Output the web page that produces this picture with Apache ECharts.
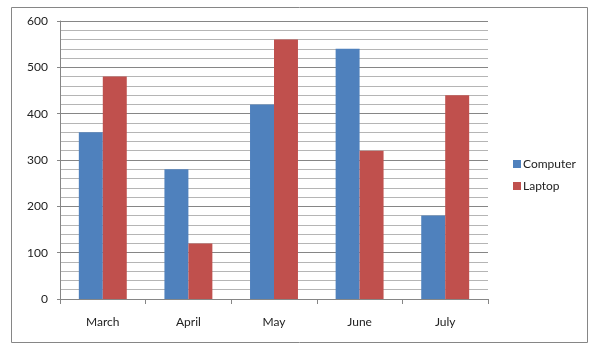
<!DOCTYPE html>
<html><head><meta charset="utf-8">
<script src="https://cdn.jsdelivr.net/npm/echarts@6/dist/echarts.min.js"></script>
<style>html,body{margin:0;padding:0;background:#fff}#c{width:596px;height:357px}</style>
</head><body><div id="c"></div>
<script>
const categories = ['March', 'April', 'May', 'June', 'July'];
const computer = [360, 280, 420, 540, 180];
const laptop = [480, 120, 560, 320, 440];
const yTicks = [0, 100, 200, 300, 400, 500, 600];

const chart = echarts.init(document.getElementById('c'), null, {renderer: 'canvas'});
const font = 'Lato, "Open Sans", sans-serif';
chart.setOption({
  animation: false,
  textStyle: {fontFamily: font},
  graphic: [{type: 'rect', shape: {x: 11.5, y: 7.5, width: 576, height: 335}, style: {fill: 'none', stroke: '#868686', lineWidth: 1}, z: 0}],
  grid: {left: 60, right: 108, top: 21, bottom: 58},
  legend: {
    orient: 'vertical', left: 508, top: 153, itemWidth: 8, itemHeight: 8, itemGap: 10,
    icon: 'rect', textStyle: {fontSize: 12, color: '#222', fontFamily: font, padding: [0, 0, 0, -3]},
    data: ['Computer', 'Laptop']
  },
  xAxis: {
    type: 'category', data: categories,
    axisLine: {lineStyle: {color: '#868686'}},
    axisTick: {show: true, length: 5, lineStyle: {color: '#868686'}},
    axisLabel: {fontSize: 12, color: '#222', margin: 17, fontFamily: font}
  },
  yAxis: {
    type: 'value', min: yTicks[0], max: yTicks[yTicks.length - 1], interval: 100,
    axisLine: {show: true, lineStyle: {color: '#868686'}},
    axisTick: {show: true, length: 3, lineStyle: {color: '#868686'}},
    axisLabel: {fontSize: 12, color: '#222', margin: 12, fontFamily: font},
    splitLine: {show: true, lineStyle: {color: '#868686'}},
    minorTick: {show: false, splitNumber: 5},
    minorSplitLine: {show: true, lineStyle: {color: '#b5b5b5'}}
  },
  series: [
    {name: 'Computer', type: 'bar', data: computer, barGap: '0%', barCategoryGap: '44%', itemStyle: {color: '#4f81bd'}},
    {name: 'Laptop', type: 'bar', data: laptop, itemStyle: {color: '#c0504d'}}
  ]
});
</script></body></html>
